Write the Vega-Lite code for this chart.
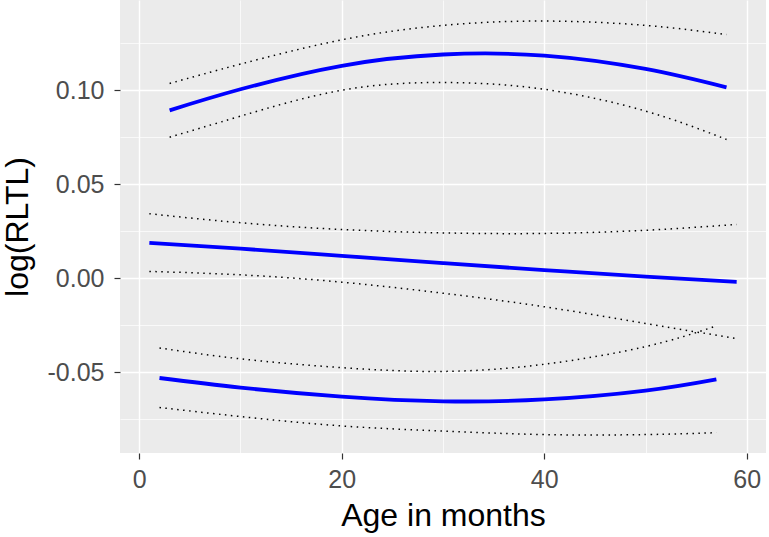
{
  "$schema": "https://vega.github.io/schema/vega-lite/v6.json",
  "width": 646,
  "height": 453,
  "autosize": {"type": "none"},
  "padding": {"left": 120, "top": 0, "right": 3, "bottom": 84},
  "background": "white",
  "config": {"view": {"fill": "#EBEBEB", "stroke": null}, "font": "Liberation Sans"},
  "data": {"values": [
    {"series": "A_fit", "kind": "fit", "age": 3, "value": 0.0893},
    {"series": "A_fit", "kind": "fit", "age": 10, "value": 0.1005},
    {"series": "A_fit", "kind": "fit", "age": 20, "value": 0.1130},
    {"series": "A_fit", "kind": "fit", "age": 30, "value": 0.1190},
    {"series": "A_fit", "kind": "fit", "age": 40, "value": 0.1184},
    {"series": "A_fit", "kind": "fit", "age": 50, "value": 0.1113},
    {"series": "A_fit", "kind": "fit", "age": 58, "value": 0.1015},
    {"series": "A_up", "kind": "ci", "age": 3, "value": 0.1036},
    {"series": "A_up", "kind": "ci", "age": 10, "value": 0.1139},
    {"series": "A_up", "kind": "ci", "age": 20, "value": 0.1268},
    {"series": "A_up", "kind": "ci", "age": 30, "value": 0.1345},
    {"series": "A_up", "kind": "ci", "age": 40, "value": 0.1368},
    {"series": "A_up", "kind": "ci", "age": 50, "value": 0.1345},
    {"series": "A_up", "kind": "ci", "age": 58, "value": 0.1296},
    {"series": "A_lo", "kind": "ci", "age": 3, "value": 0.0750},
    {"series": "A_lo", "kind": "ci", "age": 10, "value": 0.0862},
    {"series": "A_lo", "kind": "ci", "age": 20, "value": 0.1000},
    {"series": "A_lo", "kind": "ci", "age": 30, "value": 0.1041},
    {"series": "A_lo", "kind": "ci", "age": 40, "value": 0.1005},
    {"series": "A_lo", "kind": "ci", "age": 50, "value": 0.0889},
    {"series": "A_lo", "kind": "ci", "age": 58, "value": 0.0738},
    {"series": "B_fit", "kind": "fit", "age": 1, "value": 0.0188},
    {"series": "B_fit", "kind": "fit", "age": 10, "value": 0.0157},
    {"series": "B_fit", "kind": "fit", "age": 20, "value": 0.0119},
    {"series": "B_fit", "kind": "fit", "age": 30, "value": 0.0080},
    {"series": "B_fit", "kind": "fit", "age": 40, "value": 0.0043},
    {"series": "B_fit", "kind": "fit", "age": 50, "value": 0.0008},
    {"series": "B_fit", "kind": "fit", "age": 59, "value": -0.0020},
    {"series": "B_up", "kind": "ci", "age": 1, "value": 0.0343},
    {"series": "B_up", "kind": "ci", "age": 10, "value": 0.0295},
    {"series": "B_up", "kind": "ci", "age": 20, "value": 0.0259},
    {"series": "B_up", "kind": "ci", "age": 30, "value": 0.0241},
    {"series": "B_up", "kind": "ci", "age": 40, "value": 0.0238},
    {"series": "B_up", "kind": "ci", "age": 50, "value": 0.0255},
    {"series": "B_up", "kind": "ci", "age": 59, "value": 0.0286},
    {"series": "B_lo", "kind": "ci", "age": 1, "value": 0.0036},
    {"series": "B_lo", "kind": "ci", "age": 10, "value": 0.0018},
    {"series": "B_lo", "kind": "ci", "age": 20, "value": -0.0021},
    {"series": "B_lo", "kind": "ci", "age": 30, "value": -0.0080},
    {"series": "B_lo", "kind": "ci", "age": 40, "value": -0.0152},
    {"series": "B_lo", "kind": "ci", "age": 50, "value": -0.0241},
    {"series": "B_lo", "kind": "ci", "age": 59, "value": -0.0321},
    {"series": "C_fit", "kind": "fit", "age": 2, "value": -0.0531},
    {"series": "C_fit", "kind": "fit", "age": 10, "value": -0.0582},
    {"series": "C_fit", "kind": "fit", "age": 20, "value": -0.0630},
    {"series": "C_fit", "kind": "fit", "age": 30, "value": -0.0655},
    {"series": "C_fit", "kind": "fit", "age": 40, "value": -0.0645},
    {"series": "C_fit", "kind": "fit", "age": 50, "value": -0.0598},
    {"series": "C_fit", "kind": "fit", "age": 57, "value": -0.0538},
    {"series": "C_up", "kind": "ci", "age": 2, "value": -0.0371},
    {"series": "C_up", "kind": "ci", "age": 10, "value": -0.0429},
    {"series": "C_up", "kind": "ci", "age": 20, "value": -0.0476},
    {"series": "C_up", "kind": "ci", "age": 30, "value": -0.0496},
    {"series": "C_up", "kind": "ci", "age": 40, "value": -0.0458},
    {"series": "C_up", "kind": "ci", "age": 50, "value": -0.0364},
    {"series": "C_up", "kind": "ci", "age": 57, "value": -0.0254},
    {"series": "C_lo", "kind": "ci", "age": 2, "value": -0.0688},
    {"series": "C_lo", "kind": "ci", "age": 10, "value": -0.0736},
    {"series": "C_lo", "kind": "ci", "age": 20, "value": -0.0786},
    {"series": "C_lo", "kind": "ci", "age": 30, "value": -0.0813},
    {"series": "C_lo", "kind": "ci", "age": 40, "value": -0.0832},
    {"series": "C_lo", "kind": "ci", "age": 50, "value": -0.0832},
    {"series": "C_lo", "kind": "ci", "age": 57, "value": -0.0822}
  ]},
  "encoding": {
    "x": {
      "field": "age", "type": "quantitative",
      "scale": {"domain": [-1.9, 61.9], "nice": false, "zero": false},
      "axis": {
        "values": [0, 10, 20, 30, 40, 50, 60],
        "grid": true,
        "gridColor": "white",
        "gridWidth": {"condition": {"test": "datum.value % 20 !== 0", "value": 0.7}, "value": 1.4},
        "tickColor": {"condition": {"test": "datum.value % 20 !== 0", "value": "transparent"}, "value": "#333333"},
        "labelExpr": "datum.value % 20 === 0 ? datum.label : ''",
        "domain": false,
        "tickSize": 6,
        "tickWidth": 1.2,
        "labelFontSize": 25,
        "labelColor": "#4D4D4D",
        "labelPadding": 8,
        "title": "Age in months",
        "titleFontSize": 32,
        "titleFontWeight": "normal",
        "titleColor": "black",
        "titlePadding": 8
      }
    },
    "y": {
      "field": "value", "type": "quantitative",
      "scale": {"domain": [-0.093, 0.148], "nice": false, "zero": false},
      "axis": {
        "values": [-0.075, -0.05, -0.025, 0, 0.025, 0.05, 0.075, 0.1, 0.125],
        "grid": true,
        "gridColor": "white",
        "gridWidth": {"condition": {"test": "abs(datum.value*20 - round(datum.value*20)) > 0.01", "value": 0.7}, "value": 1.4},
        "tickColor": {"condition": {"test": "abs(datum.value*20 - round(datum.value*20)) > 0.01", "value": "transparent"}, "value": "#333333"},
        "labelExpr": "abs(datum.value*20 - round(datum.value*20)) > 0.01 ? '' : replace(format(datum.value, '.2f'), '\u2212', '-')",
        "domain": false,
        "tickSize": 6,
        "tickWidth": 1.2,
        "labelFontSize": 25,
        "labelColor": "#4D4D4D",
        "labelPadding": 10,
        "title": "log(RLTL)",
        "titleFontSize": 32,
        "titleFontWeight": "normal",
        "titleColor": "black",
        "titlePadding": 13
      }
    },
    "detail": {"field": "series", "type": "nominal"}
  },
  "layer": [
    {
      "transform": [{"filter": "datum.kind === 'ci'"}],
      "mark": {"type": "line", "interpolate": "natural", "color": "black", "strokeWidth": 1.5, "strokeDash": [1.5, 4.5], "clip": true}
    },
    {
      "transform": [{"filter": "datum.kind === 'fit'"}],
      "mark": {"type": "line", "interpolate": "natural", "color": "#0000FF", "strokeWidth": 3.8, "clip": true}
    }
  ]
}
